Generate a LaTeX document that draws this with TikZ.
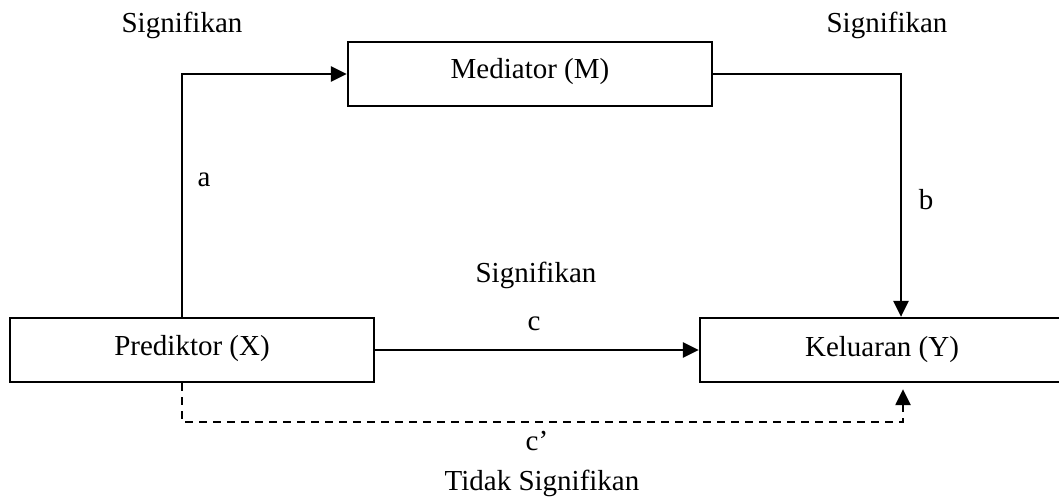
\documentclass[tikz,border=0pt]{standalone}
\usepackage{fontspec}
\setmainfont{Liberation Serif}
\usetikzlibrary{arrows.meta}
\begin{document}
\begin{tikzpicture}[x=1pt,y=-1pt,
  every node/.style={font=\fontsize{29}{34}\selectfont, inner sep=0pt},
  box/.style={draw, line width=2.3pt, minimum width=364pt, minimum height=64pt},
  lbl/.style={anchor=base},
  conn/.style={line width=2.4pt},
  arr/.style={conn, -{Triangle[length=16pt,width=15pt]}},
  dasharr/.style={arr, dash pattern=on 8pt off 6pt}]
\useasboundingbox (0,0) rectangle (1059,498);
\node[box] (M) at (530,74) {};
\node[box] (X) at (192,350) {};
\node[box] (Y) at (882,350) {};
\node[lbl] (Mt) at (530,78) {Mediator (M)};
\node[lbl] (Xt) at (192,355) {Prediktor (X)};
\node[lbl] (Yt) at (882,356) {Keluaran (Y)};
\draw[arr] ([xshift=-10pt]X.north) |- (M.west);
\draw[arr] (M.east) -| ([xshift=19pt]Y.north);
\draw[arr] (X.east) -- (Y.west);
\draw[dasharr, shorten >=6pt] ([xshift=-10pt]X.south) |- (542,422) -| ([xshift=21pt]Y.south);
\node[lbl] (s1) at (182,32) {Signifikan};
\node[lbl] (s2) at (887,32) {Signifikan};
\node[lbl] (s3) at (536,282) {Signifikan};
\node[lbl] (la) at (204,186) {a};
\node[lbl] (lb) at (926,209) {b};
\node[lbl] (lc) at (534,330) {c};
\node[lbl] (lc2) at (537,450) {c’};
\node[lbl] (s4) at (542,490) {Tidak Signifikan};
\end{tikzpicture}
\end{document}
